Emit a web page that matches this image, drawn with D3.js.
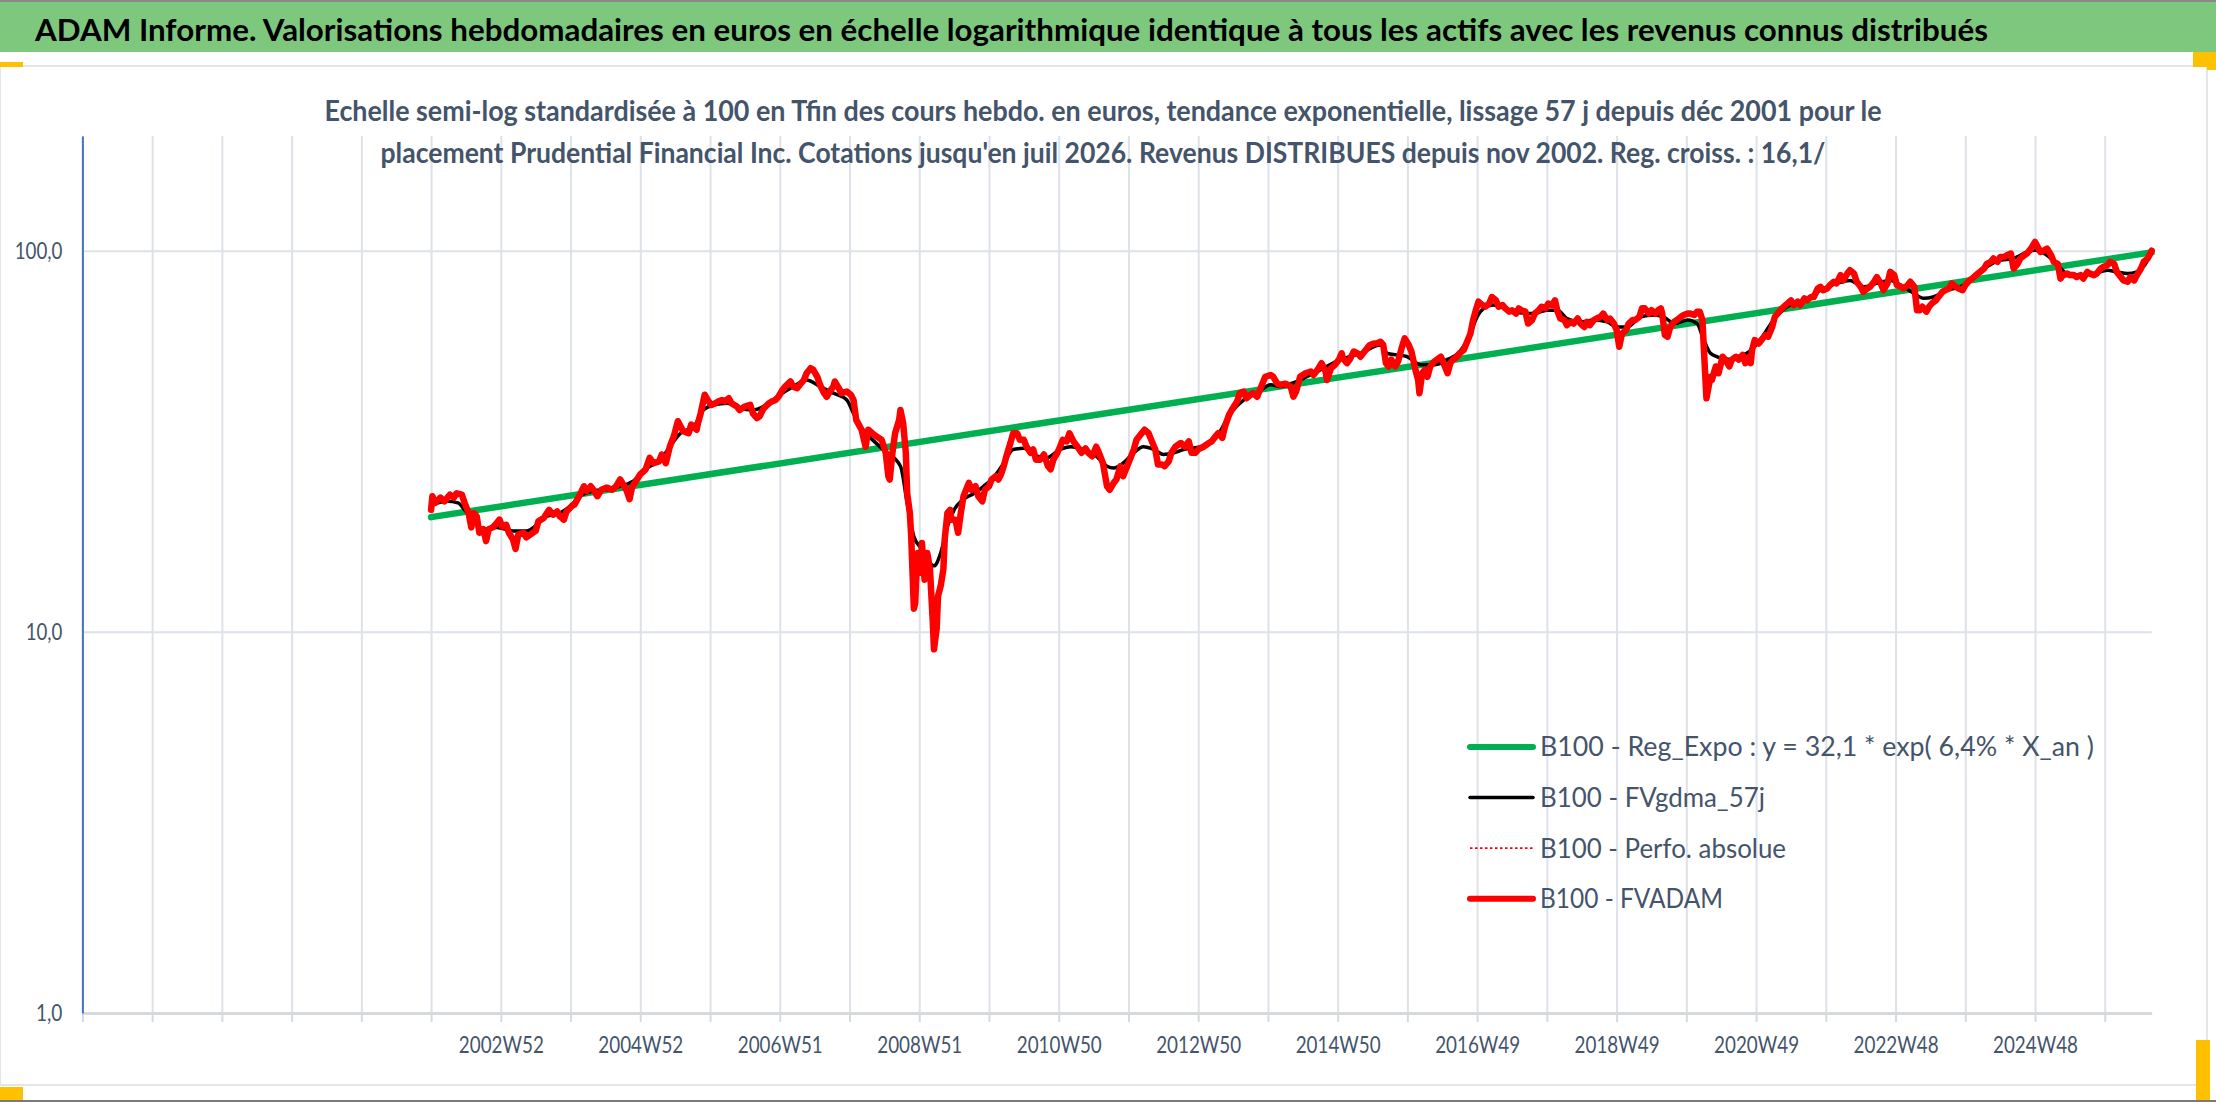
<!DOCTYPE html>
<html>
<head>
<meta charset="utf-8">
<script src="https://cdn.jsdelivr.net/npm/d3@7"></script>
<style>
  body { margin: 0; background: #fff; }
  svg { display: block; }
  text { font-family: Lato, "Open Sans", sans-serif; }
</style>
</head>
<body>
<div id="chart"></div>
<script>
// ---- data ----
// weekly category axis: one gridline every 52 weeks, series starts on week 260 (dec 2001)
var weekCount = 1543;
var startWeek = 260;
var gridWeeks = d3.range(0, 1509, 52);
var tickWeeks = [312, 416, 520, 624, 728, 832, 936, 1040, 1144, 1248, 1352, 1456];
var tickLabels = ["2002W52", "2004W52", "2006W51", "2008W51", "2010W50", "2012W50",
                  "2014W50", "2016W49", "2018W49", "2020W49", "2022W48", "2024W48"];
var yTicks = [1, 10, 100];
var yTickLabels = ["1,0", "10,0", "100,0"];

// [week since start, value base 100]
var regExpo = [[0, 20.0], [1283, 99.0]];

var fvadam = [
  [0,20.9],[1,22.7],[3,21.8],[7,22.5],[10,22.0],[14,22.9],[17,22.5],[19,23.1],[23,22.9],[25,21.8],
  [28,20.5],[30,18.8],[32,20.5],[34,20.1],[36,18.2],[39,18.6],[41,17.3],[43,18.6],[46,18.8],[49,19.3],
  [51,19.7],[53,18.9],[56,19.1],[58,18.2],[61,17.5],[63,16.5],[65,18.0],[69,18.2],[71,17.7],[74,18.0],
  [78,18.4],[80,19.5],[84,19.9],[88,20.9],[91,20.3],[94,20.7],[96,20.1],[99,19.7],[101,20.7],[105,21.4],
  [107,21.6],[111,22.9],[114,24.1],[116,23.4],[119,24.1],[121,23.6],[124,22.7],[127,23.6],[131,23.9],[135,23.6],
  [138,24.1],[141,25.1],[144,24.1],[146,23.4],[148,22.3],[150,24.1],[152,24.6],[156,25.9],[160,26.7],[163,28.6],
  [166,27.7],[170,28.0],[172,29.2],[175,27.7],[178,30.6],[181,32.6],[184,35.7],[188,33.6],[192,33.2],[194,35.0],
  [198,33.9],[199,35.3],[201,37.4],[204,41.9],[207,40.2],[209,39.4],[212,39.8],[214,40.2],[217,40.6],[219,40.2],
  [222,41.0],[224,39.8],[228,39.0],[230,38.2],[234,39.0],[238,39.4],[240,37.4],[243,36.4],[245,36.8],[248,38.6],
  [252,39.8],[254,40.2],[257,40.6],[259,41.4],[262,43.1],[264,44.0],[268,45.4],[270,44.0],[273,43.6],[275,44.5],
  [278,45.8],[280,47.7],[283,49.2],[285,48.7],[288,46.7],[290,44.5],[293,42.3],[295,41.4],[298,43.1],[300,44.0],
  [301,45.4],[304,43.6],[306,42.3],[310,42.7],[313,41.9],
  [315,40.6],[317,36.0],[321,33.9],[324,30.6],[326,33.9],[329,33.2],[332,32.6],[336,31.9],[339,29.5],[341,25.6],
  [342,25.1],[344,29.5],[346,33.2],[349,36.0],[350,38.2],[352,35.3],[354,29.5],[355,23.1],[357,20.5],[358,17.8],
  [360,11.5],[361,11.9],[362,14.6],[363,16.1],[365,14.3],[366,17.1],[368,13.7],[370,16.1],[372,14.6],[374,10.8],
  [375,9.0],[377,10.2],[378,12.4],[380,13.2],[382,14.6],[383,17.5],[385,20.5],[387,20.9],[388,19.7],[391,19.7],
  [393,18.2],[395,20.5],[397,22.7],[400,24.1],[401,24.6],[403,23.6],[406,24.1],[408,22.7],[411,22.0],[413,23.6],
  [416,24.1],[418,25.1],[421,25.6],[423,25.1],[425,25.9],[427,27.2],[429,28.9],[432,31.3],[434,33.2],[437,33.2],
  [439,31.9],[442,31.9],[444,30.6],[447,29.5],[449,30.1],[451,28.3],[454,28.3],[457,29.2],[460,27.2],[462,26.7],
  [464,28.3],[467,29.5],[469,30.6],[471,31.9],[474,31.6],[476,33.2],[479,31.6],[482,30.6],[485,29.5],[488,30.3],
  [490,29.5],[493,28.9],[496,30.6],[498,29.5],[501,27.7],[504,24.1],[506,23.6],[509,24.6],[511,25.1],[514,27.2],
  [516,25.6],[519,27.2],[521,28.3],[524,30.1],[526,31.9],[529,32.9],[532,33.9],[535,33.2],[537,31.9],[540,30.1],
  [542,27.5],[545,27.5],[547,27.2],[550,28.0],[552,29.5],[555,30.6],[559,31.3],[562,30.6],[565,31.6],[567,29.5],
  [570,29.5],[572,30.1],[576,30.6],[580,31.3],[582,31.6],[585,32.6],[587,33.2],[590,32.3],[592,34.6],[595,37.1],
  [597,38.2],[601,40.2],[603,42.3],[606,42.7],[608,41.0],[611,41.9],[613,42.3],[616,41.4],[619,44.0],[622,46.7],
  [626,47.2],[628,46.7],[631,44.8],
  [633,44.5],[637,44.8],[641,44.0],[643,41.4],[645,42.7],[648,46.7],[652,47.7],[656,48.2],[658,47.2],[661,48.7],
  [664,50.7],[667,48.2],[668,45.8],[671,49.2],[674,50.2],[677,51.8],[679,53.8],[680,52.2],[683,50.7],[685,51.8],
  [688,54.4],[691,53.8],[693,52.7],[695,53.8],[698,55.5],[700,56.6],[703,57.1],[705,57.1],[708,57.7],[710,56.6],
  [712,50.7],[714,49.7],[716,51.8],[719,49.7],[721,51.2],[724,56.0],[726,58.9],[729,56.6],[731,54.4],[734,48.7],
  [736,45.8],[737,42.3],[739,47.7],[741,48.7],[743,46.7],[745,49.7],[748,51.2],[750,51.8],[753,52.7],[755,50.7],
  [758,47.7],[760,50.7],[762,51.8],[765,52.7],[767,53.8],[770,54.9],[772,57.1],[775,60.6],[777,65.8],[779,69.8],
  [781,73.5],[784,72.0],[786,71.3],[789,72.7],[791,75.6],[794,74.1],[796,71.3],[799,72.0],[801,70.6],[804,69.2],
  [806,69.8],[809,68.4],[811,70.6],[813,69.8],[816,69.2],[818,64.4],[821,65.8],[823,68.4],[826,69.8],[828,71.3],
  [831,70.6],[833,72.7],[836,72.0],[838,74.1],[840,69.2],[842,66.4],[845,65.8],[847,63.8],[850,65.1],[852,64.4],
  [855,66.4],[857,64.4],[860,63.1],[862,65.1],[864,63.8],[867,65.8],[869,66.4],[872,67.1],[874,68.4],[877,65.8],
  [879,66.4],[882,64.4],[884,61.9],[886,56.0],[888,60.6],[891,61.9],[893,64.4],[896,65.8],[898,65.8],[901,67.1],
  [903,70.6],[905,70.6],[908,68.4],[910,69.8],[913,68.4],[915,69.8],[917,70.6],[918,68.4],[920,60.1],[922,59.5],
  [924,63.1],[927,65.1],[929,65.8],[932,67.1],[934,67.8],[937,68.4],[939,68.4],[942,67.8],[944,69.2],[946,69.2],
  [948,65.8],[949,56.0],[950,47.7],[951,41.0],[954,46.7],
  [955,45.8],[958,49.7],[960,47.7],[963,52.7],[965,51.8],[968,49.7],[970,51.8],[973,52.7],[975,51.8],[978,53.3],
  [980,50.7],[983,52.7],[984,50.7],[985,54.9],[987,58.3],[990,57.1],[992,58.3],[995,60.1],[997,59.5],[1000,63.1],
  [1002,67.1],[1006,69.8],[1010,72.0],[1014,74.1],[1016,72.0],[1019,73.5],[1021,72.0],[1024,75.0],[1026,74.1],[1029,75.6],
  [1031,75.6],[1034,79.6],[1036,80.4],[1038,78.8],[1041,79.6],[1043,81.2],[1046,82.9],[1048,82.1],[1051,86.3],[1053,83.6],
  [1056,87.1],[1058,88.9],[1061,87.1],[1063,82.9],[1066,80.4],[1068,78.0],[1071,79.6],[1073,80.4],[1076,82.9],[1078,85.3],
  [1081,82.1],[1083,78.8],[1086,82.1],[1088,88.0],[1091,86.3],[1093,81.2],[1096,80.4],[1098,79.6],[1101,81.2],[1103,82.9],
  [1106,80.4],[1108,69.8],[1110,69.8],[1112,71.3],[1115,69.2],[1117,71.3],[1119,72.7],[1122,74.1],[1124,75.6],[1127,78.0],
  [1129,78.8],[1132,79.6],[1134,82.1],[1137,80.4],[1139,79.6],[1142,78.8],[1144,81.2],[1147,83.6],[1149,84.5],[1152,86.3],
  [1155,88.0],[1158,89.8],[1160,92.4],[1163,93.5],[1165,95.4],[1168,93.5],[1170,96.3],[1173,96.3],[1175,97.3],[1178,98.3],
  [1180,89.8],[1183,92.4],[1185,95.4],[1188,97.3],[1190,98.3],[1193,101.3],[1196,105.4],[1198,102.4],[1200,99.3],[1203,100.3],
  [1205,101.3],[1208,97.3],[1210,93.5],[1213,92.4],[1215,84.5],[1217,86.3],[1220,87.1],[1222,86.3],[1225,86.3],[1227,85.3],
  [1230,86.3],[1232,84.5],[1235,88.0],[1237,87.1],[1240,86.3],[1242,87.1],[1245,89.8],[1247,90.7],[1250,91.7],[1252,93.5],
  [1255,92.4],[1257,88.0],[1260,85.3],[1262,83.6],[1265,82.9],[1267,85.3],[1270,83.6],[1272,86.3],[1275,89.8],[1277,93.5],
  [1280,95.4],[1282,98.3],[1283,100.0]
];

var fvgdma = [
  [0,21.5],[12,22.0],[20,21.8],[25,20.9],[32,19.5],[39,18.6],[49,18.8],[61,18.4],[71,18.4],[79,19.1],
  [86,20.1],[96,20.5],[104,21.4],[111,22.7],[121,23.4],[131,23.6],[141,24.1],[151,24.9],[161,26.9],[171,28.3],
  [178,30.6],[186,33.2],[196,34.6],[203,38.2],[211,39.4],[221,39.8],[230,38.6],[240,38.2],[250,39.4],[260,41.9],
  [270,44.0],[280,45.8],[290,44.0],[300,42.3],[310,40.6],[315,37.4],[320,34.6],[325,33.0],[337,30.1],[350,27.2],
  [355,21.8],[360,17.8],[366,16.5],[375,14.9],[380,16.1],[385,18.9],[390,20.9],[397,22.3],[405,23.1],[412,24.1],
  [419,25.3],[427,27.7],[434,30.1],[442,30.3],[452,28.9],[459,28.6],[469,30.1],[477,30.6],[487,30.1],[496,28.9],
  [504,27.2],[509,26.9],[516,27.7],[524,29.5],[531,30.6],[539,30.1],[546,29.2],[554,29.5],[561,30.1],[574,30.6],
  [586,32.6],[596,37.4],[606,40.6],[616,42.3],[626,44.5],[633,44.0],[648,45.8],[663,48.7],[678,51.8],[693,53.8],
  [708,56.6],[713,53.8],[720,53.3],[728,52.7],[738,50.2],[748,50.2],[758,51.8],[767,54.4],[775,60.6],[780,67.1],
  [785,70.6],[792,72.0],[807,69.2],[822,68.4],[832,69.8],[840,69.8],[847,66.4],[857,65.1],[867,65.8],[877,65.1],
  [884,63.1],[892,63.1],[902,67.1],[912,67.8],[919,67.1],[927,64.4],[937,65.8],[944,64.4],[949,58.3],[954,53.8],
  [959,52.7],[969,51.8],[974,52.7],[981,53.8],[991,58.3],[1001,65.8],[1011,71.3],[1024,74.1],[1036,78.8],[1048,82.1],
  [1058,83.6],[1068,80.4],[1078,82.1],[1088,83.6],[1098,80.4],[1106,77.2],[1113,75.0],[1120,75.6],[1130,78.8],[1140,80.4],
  [1150,84.5],[1160,90.7],[1170,94.4],[1180,95.4],[1190,99.3],[1196,100.3],[1205,97.3],[1212,92.4],[1220,87.1],[1230,86.3],
  [1240,87.1],[1250,88.9],[1257,88.0],[1265,87.1],[1272,88.0],[1280,94.4],[1283,99.5]
];

var legendLabels = ["B100 - Reg_Expo : y = 32,1 * exp( 6,4% *  X_an )", "B100 - FVgdma_57j",
                    "B100 - Perfo. absolue", "B100 - FVADAM"];

// ---- page ----
var W = 2216, H = 1102;
var plot = {left: 82.4, right: 2151.7, top: 136, bottom: 1013};
var slate = "#44546a", gridColor = "#dde1e8";

var svg = d3.select("#chart")
  .append("svg")
    .attr("width", W)
    .attr("height", H);

// sheet background, green title band, chart frame and the little yellow handles
svg.append("rect").attr("width", W).attr("height", H).attr("fill", "#fff");
svg.append("rect").attr("width", W).attr("height", 2).attr("fill", "#8a8a8a");
svg.append("rect").attr("y", 2).attr("width", W).attr("height", 50).attr("fill", "#7ec87e");
svg.append("rect").attr("x", 0).attr("y", 66).attr("width", 2207).attr("height", 1019)
  .attr("fill", "#fff").attr("stroke", "#e3e5e8").attr("stroke-width", 2);
svg.append("rect").attr("y", 1100).attr("width", W).attr("height", 2).attr("fill", "#7a7a7a");
var handles = [[0, 62, 23, 5], [2193, 52, 23, 15], [2207, 52, 9, 18], [0, 1087, 23, 13], [2196, 1040, 14, 60]];
svg.selectAll("rect.handle")
  .data(handles)
  .enter()
  .append("rect")
    .attr("class", "handle")
    .attr("x", function(d) { return d[0]; })
    .attr("y", function(d) { return d[1]; })
    .attr("width", function(d) { return d[2]; })
    .attr("height", function(d) { return d[3]; })
    .attr("fill", "#ffc000");

// main title
svg.append("text")
  .attr("x", 35)
  .attr("y", 41)
  .attr("textLength", 1953)
  .attr("lengthAdjust", "spacingAndGlyphs")
  .style("font-size", "31px")
  .style("font-weight", "bold")
  .attr("fill", "#000")
  .text("ADAM Informe. Valorisations hebdomadaires en euros en échelle logarithmique identique à tous les actifs avec les revenus connus distribués");

// ---- scales ----
var x = d3.scaleLinear()
  .domain([0, weekCount])
  .range([plot.left, plot.right]);
var y = d3.scaleLog()
  .domain([1, 200])
  .range([plot.bottom, plot.top]);

// vertical gridlines
svg.append("g")
  .attr("transform", "translate(0," + plot.bottom + ")")
  .call(d3.axisBottom(x).tickValues(gridWeeks).tickSize(-(plot.bottom - plot.top)).tickFormat(""))
  .call(function(g) { g.select(".domain").remove(); })
  .selectAll("line")
    .attr("stroke", gridColor)
    .attr("stroke-width", 2);

// horizontal gridlines
svg.append("g")
  .attr("transform", "translate(" + plot.left + ",0)")
  .call(d3.axisLeft(y).tickValues([10, 100]).tickSize(-(plot.right - plot.left)).tickFormat(""))
  .call(function(g) { g.select(".domain").remove(); })
  .selectAll("line")
    .attr("stroke", gridColor)
    .attr("stroke-width", 2);

// subtitle (drawn over the gridlines like in the sheet)
var subtitle = ["Echelle semi-log standardisée à 100 en Tfin des cours hebdo. en euros, tendance exponentielle, lissage 57 j depuis déc 2001 pour le",
                "placement Prudential Financial Inc. Cotations jusqu'en juil 2026. Revenus DISTRIBUES depuis nov 2002. Reg. croiss. : 16,1/"];
var subWidths = [1557, 1445];
svg.selectAll("text.sub")
  .data(subtitle)
  .enter()
  .append("text")
    .attr("class", "sub")
    .attr("x", 1103)
    .attr("y", function(d, i) { return 121 + i * 42; })
    .attr("text-anchor", "middle")
    .attr("textLength", function(d, i) { return subWidths[i]; })
    .attr("lengthAdjust", "spacingAndGlyphs")
    .style("font-size", "28px")
    .style("font-weight", "bold")
    .attr("fill", slate)
    .text(function(d) { return d; });

// X axis: base line, tick marks and labels
var xAxis = svg.append("g")
  .attr("transform", "translate(0," + plot.bottom + ")")
  .call(d3.axisBottom(x)
    .tickValues(gridWeeks)
    .tickSizeInner(9)
    .tickSizeOuter(0)
    .tickPadding(14)
    .tickFormat(function(d) {
      var k = tickWeeks.indexOf(d);
      return k < 0 ? "" : tickLabels[k];
    }));
xAxis.select(".domain").attr("stroke", "#d6d9de").attr("stroke-width", 3);
xAxis.selectAll("line").attr("stroke", "#d6d9de").attr("stroke-width", 2);
xAxis.selectAll("text")
  .attr("fill", slate)
  .style("font-size", "24px")
  .filter(function() { return this.textContent !== ""; })
    .attr("textLength", 85)
    .attr("lengthAdjust", "spacingAndGlyphs");

// Y axis
var yWidths = [26.5, 36.7, 47.7];
var yAxis = svg.append("g")
  .attr("transform", "translate(" + plot.left + ",0)")
  .call(d3.axisLeft(y)
    .tickValues(yTicks)
    .tickSize(0)
    .tickPadding(20)
    .tickFormat(function(d, i) { return yTickLabels[i]; }));
yAxis.select(".domain").attr("stroke", "#4472c4").attr("stroke-width", 2);
yAxis.selectAll("text")
  .attr("fill", slate)
  .style("font-size", "23px")
  .attr("textLength", function(d, i) { return yWidths[i]; })
  .attr("lengthAdjust", "spacingAndGlyphs");

// ---- series ----
var line = d3.line()
  .x(function(d) { return x(startWeek + d[0]); })
  .y(function(d) { return y(d[1]); });

svg.append("path")
  .datum(regExpo)
  .attr("d", line)
  .attr("fill", "none")
  .attr("stroke", "#00b050")
  .attr("stroke-width", 6.5)
  .attr("stroke-linecap", "round");

svg.append("path")
  .datum(fvgdma)
  .attr("d", line.curve(d3.curveMonotoneX))
  .attr("fill", "none")
  .attr("stroke", "#000")
  .attr("stroke-width", 3.5);

line.curve(d3.curveLinear);

svg.append("path")
  .datum(fvadam)
  .attr("d", line)
  .attr("fill", "none")
  .attr("stroke", "#ff0000")
  .attr("stroke-width", 1.5)
  .attr("stroke-dasharray", "2,2");

svg.append("path")
  .datum(fvadam)
  .attr("d", line)
  .attr("fill", "none")
  .attr("stroke", "#ff0000")
  .attr("stroke-width", 6.5)
  .attr("stroke-linejoin", "round")
  .attr("stroke-linecap", "round");

// ---- legend ----
var legendStyle = [
  {color: "#00b050", width: 6, dash: null, textW: 554},
  {color: "#000", width: 3.5, dash: null, textW: 225},
  {color: "#ff0000", width: 1.8, dash: "2.5,2.5", textW: 246},
  {color: "#ff0000", width: 6, dash: null, textW: 183}
];
var legend = svg.append("g");
legendLabels.forEach(function(label, i) {
  var yy = 747 + i * 50.6;
  legend.append("line")
    .attr("x1", 1470).attr("x2", 1533)
    .attr("y1", yy).attr("y2", yy)
    .attr("stroke", legendStyle[i].color)
    .attr("stroke-width", legendStyle[i].width)
    .attr("stroke-dasharray", legendStyle[i].dash)
    .attr("stroke-linecap", legendStyle[i].dash ? "butt" : "round");
  legend.append("text")
    .attr("x", 1540)
    .attr("y", yy)
    .attr("dy", "0.35em")
    .attr("textLength", legendStyle[i].textW)
    .attr("lengthAdjust", "spacingAndGlyphs")
    .style("font-size", "27px")
    .attr("fill", slate)
    .text(label);
});
</script>
</body>
</html>
